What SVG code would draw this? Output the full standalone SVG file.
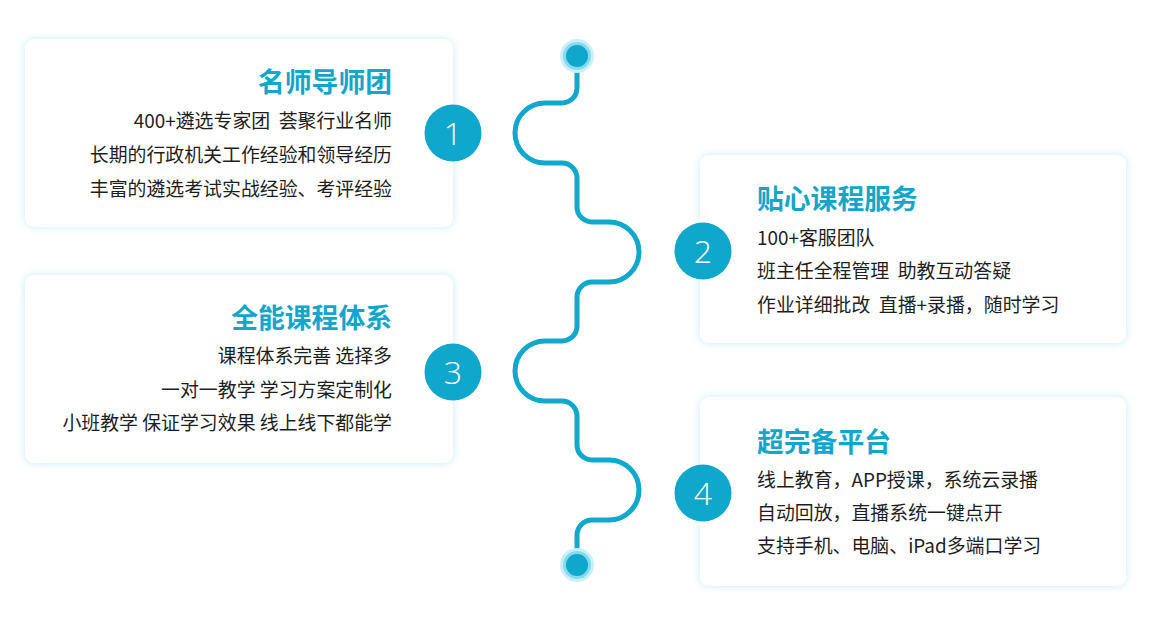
<svg xmlns="http://www.w3.org/2000/svg" width="1154" height="630" viewBox="0 0 1154 630">
<defs>
<filter id="glow" x="-10%" y="-15%" width="120%" height="130%">
<feDropShadow dx="0" dy="0" stdDeviation="4" flood-color="#bfe4f2" flood-opacity="0.8"/>
</filter>
<style>
.card{fill:#ffffff;filter:url(#glow)}
.title{font-family:"Noto Sans CJK SC","Noto Sans",sans-serif;font-size:26.8px;font-weight:bold;fill:#13a6ca}
.body{font-family:"Noto Sans CJK SC","Noto Sans",sans-serif;font-size:18.9px;fill:#1e1e1e;white-space:pre}
.num{fill:#0fa7cb}
.numtxt{font-family:"Open Sans","Lato","Noto Sans",sans-serif;font-weight:300;font-size:32px;fill:#ffffff;text-anchor:middle}
.r{text-anchor:end}
.curve{fill:none;stroke:#10a8cc;stroke-width:5;stroke-linecap:round}
</style>
</defs>
<rect width="1154" height="630" fill="#ffffff"/>

<g id="connectors">
<path class="curve" d="M577,56 V88 A15,15 0 0 1 562,103 H545 A30,30 0 0 0 545,163 H562 A15,15 0 0 1 577,178 V207 A15,15 0 0 0 592,222 H609 A30,30 0 0 1 609,282 H592 A15,15 0 0 0 577,297 V326 A15,15 0 0 1 562,341 H545 A30,30 0 0 0 545,401 H562 A15,15 0 0 1 577,416 V445 A15,15 0 0 0 592,460 H609 A30,30 0 0 1 609,520 H592 A15,15 0 0 0 577,535 V565"/>
<g id="dot-top">
<circle cx="577" cy="56" r="17" fill="#c9f0fa"/>
<circle cx="577" cy="56" r="14" fill="#86d9ef"/>
<circle cx="577" cy="56" r="11" fill="#0fa7cb"/>
</g>
<g id="dot-bottom">
<circle cx="577" cy="565" r="17" fill="#c9f0fa"/>
<circle cx="577" cy="565" r="14" fill="#86d9ef"/>
<circle cx="577" cy="565" r="11" fill="#0fa7cb"/>
</g>
</g>

<g id="node1">
<rect class="card" x="25" y="39" width="428" height="188" rx="9"/>
<text class="title r" x="392" y="92">名师导师团</text>
<text class="body r" x="392" y="128">400+遴选专家团  荟聚行业名师</text>
<text class="body r" x="392" y="162">长期的行政机关工作经验和领导经历</text>
<text class="body r" x="392" y="196">丰富的遴选考试实战经验、考评经验</text>
<circle class="num" cx="453" cy="133" r="28.5"/>
<text class="numtxt" x="453" y="145">1</text>
</g>

<g id="node2">
<rect class="card" x="700" y="155" width="426" height="188" rx="9"/>
<text class="title" x="757" y="209">贴心课程服务</text>
<text class="body" x="757" y="245">100+客服团队</text>
<text class="body" x="757" y="278">班主任全程管理  助教互动答疑</text>
<text class="body" x="757" y="312">作业详细批改  直播+录播，随时学习</text>
<circle class="num" cx="703" cy="251" r="28.5"/>
<text class="numtxt" x="703" y="263">2</text>
</g>

<g id="node3">
<rect class="card" x="25" y="275" width="428" height="188" rx="9"/>
<text class="title r" x="392" y="328">全能课程体系</text>
<text class="body r" x="392" y="363">课程体系完善 选择多</text>
<text class="body r" x="392" y="397">一对一教学 学习方案定制化</text>
<text class="body r" x="392" y="430">小班教学 保证学习效果 线上线下都能学</text>
<circle class="num" cx="453" cy="372" r="28.5"/>
<text class="numtxt" x="453" y="384">3</text>
</g>

<g id="node4">
<rect class="card" x="700" y="397" width="426" height="189" rx="9"/>
<text class="title" x="757" y="452">超完备平台</text>
<text class="body" x="757" y="487">线上教育，APP授课，系统云录播</text>
<text class="body" x="757" y="520">自动回放，直播系统一键点开</text>
<text class="body" x="757" y="553">支持手机、电脑、iPad多端口学习</text>
<circle class="num" cx="703" cy="493" r="28.5"/>
<text class="numtxt" x="703" y="505">4</text>
</g>
</svg>
